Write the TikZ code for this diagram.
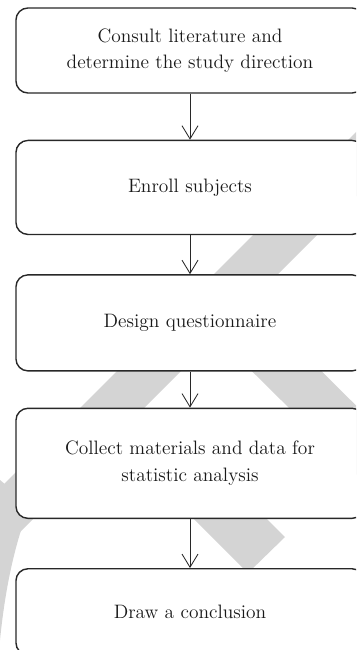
\documentclass[tikz,border=0pt]{standalone}
\usepackage{tikz}
\usetikzlibrary{positioning, arrows.meta}
\definecolor{wmgray}{RGB}{212,212,212}
\definecolor{edgegray}{RGB}{40,40,40}

\begin{document}
\begin{tikzpicture}[
    x=0.025cm, y=-0.025cm,
    block/.style={draw=edgegray, fill=white, rectangle, line width=1pt, minimum width=8.7cm, align=center, rounded corners=0.3cm, font=\fontsize{13.8}{18.8}\selectfont, text=black!90},
    arrow/.style={-{Straight Barb[length=3.3mm, width=4mm]}, line width=0.6pt, draw=edgegray},
    band/.style={fill=wmgray, draw=none},
]
\useasboundingbox (0,0) rectangle (356,650);
\clip (0,0) rectangle (356,650);

% Watermark bands
\fill[band] (388,100) -- (452,100) -- (-148,700) -- (-212,700) -- cycle;
\fill[band] (180,300) -- (250,300) -- (652,700) -- (584,700) -- cycle;
\fill[band] (85,410) -- (158,410) -- (285,537) -- (248,573) -- cycle;
\fill[band] (0,480) -- (30,505) .. controls (12,550) and (4,600) .. (0,640) -- cycle;

% Steps
\node[block, minimum height=2.125cm] (lit) at (190,50.5) {Consult literature and\\determine the study direction};
\node[block, minimum height=2.35cm, below=1.15cm of lit] (enroll) {Enroll subjects};
\node[block, minimum height=2.4cm, below=0.975cm of enroll] (design) {Design questionnaire};
\node[block, minimum height=2.75cm, below=0.9cm of design] (collect) {Collect materials and data for\\statistic analysis};
\node[block, minimum height=2.15cm, below=1.225cm of collect] (concl) {Draw a conclusion};

% Connections
\draw[arrow] (lit) -- (enroll);
\draw[arrow] (enroll) -- (design);
\draw[arrow] (design) -- (collect);
\draw[arrow] (collect) -- (concl);

\end{tikzpicture}
\end{document}
